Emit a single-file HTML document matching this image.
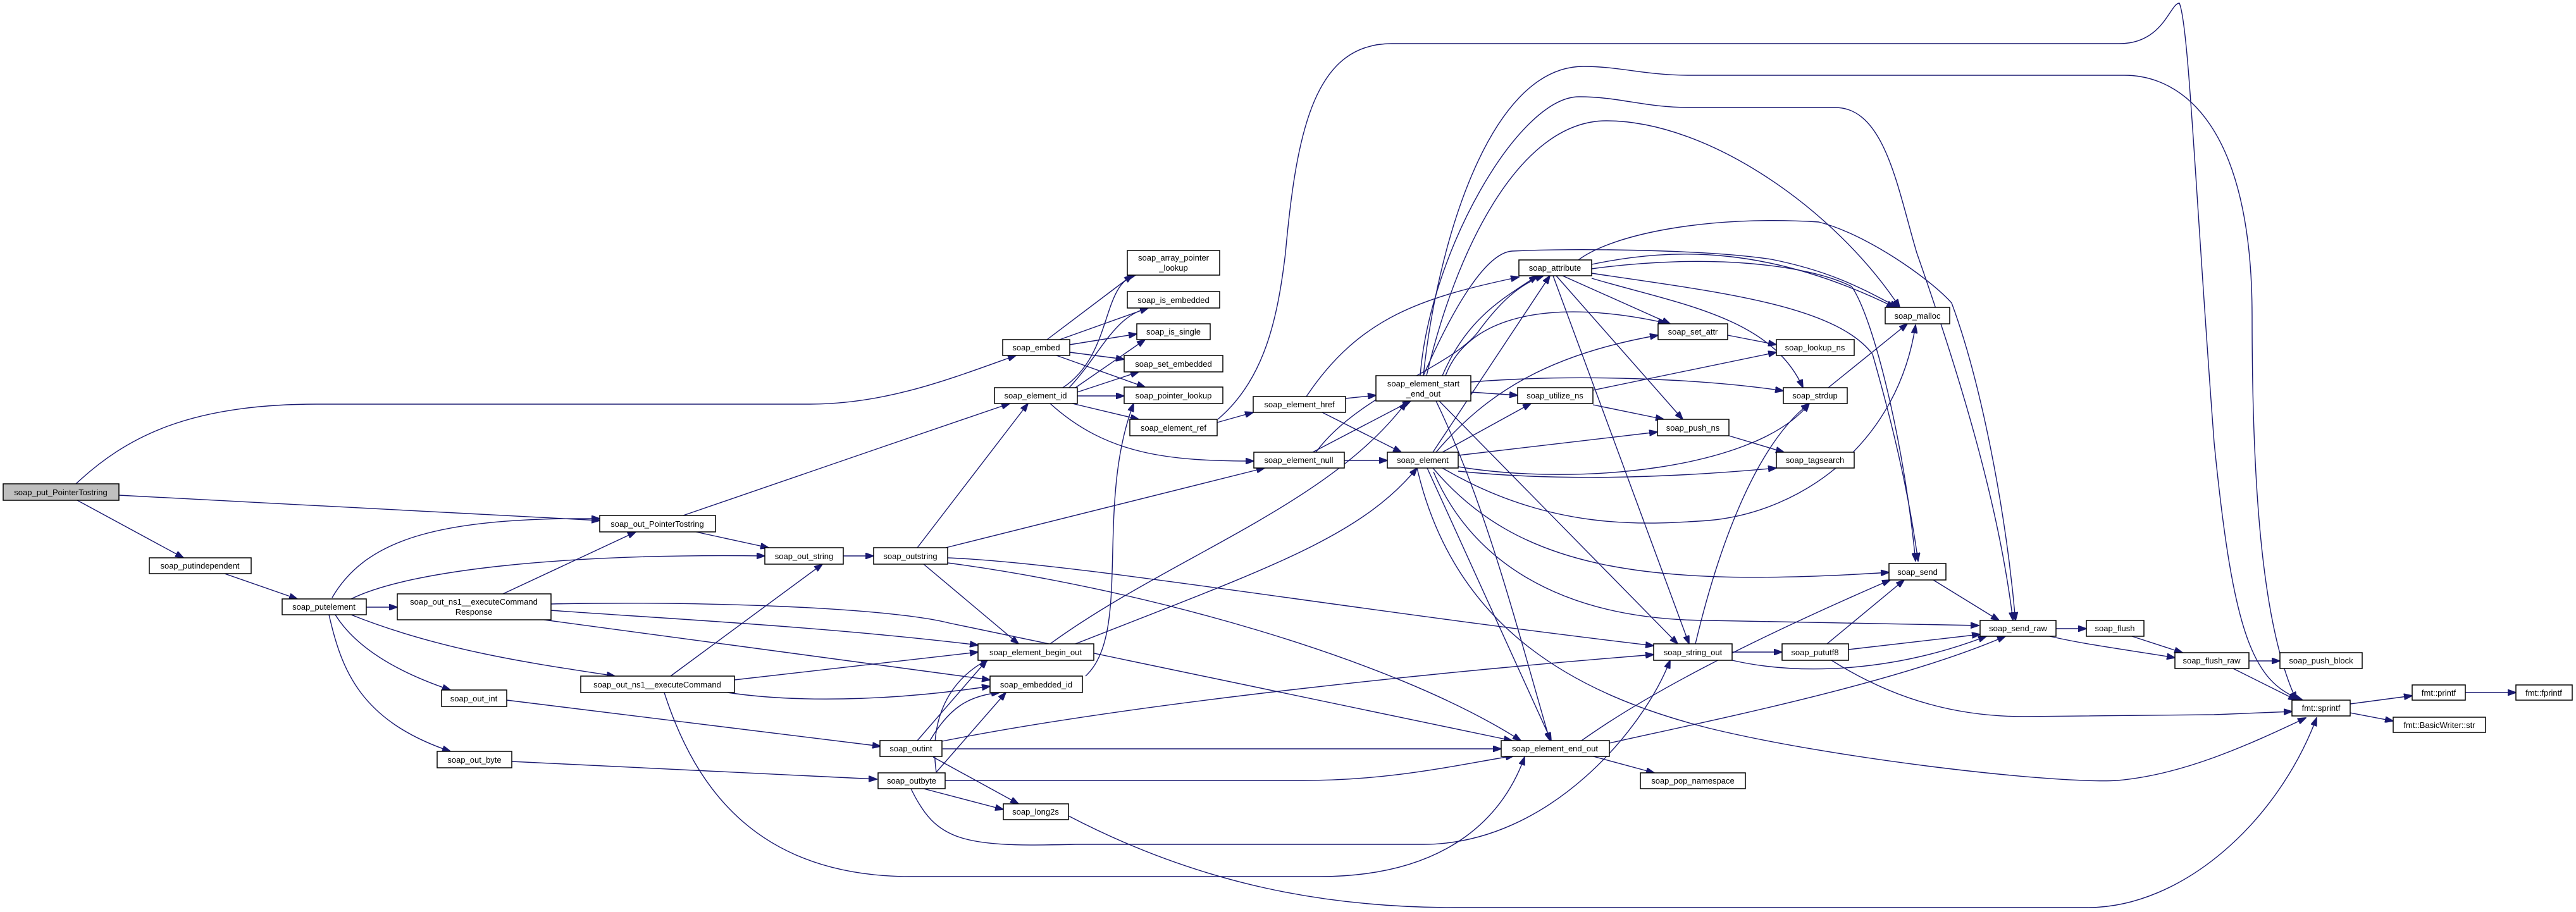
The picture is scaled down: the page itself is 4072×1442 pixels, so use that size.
<!DOCTYPE html>
<html><head><meta charset="utf-8"><style>
html,body{margin:0;padding:0;background:#fff;}
svg{display:block;}
text{font-family:"Liberation Sans",sans-serif;font-size:13px;fill:#000;text-anchor:middle;}
.e{fill:none;stroke:#191970;stroke-width:1.4;marker-end:url(#a);}
.n{fill:#fff;stroke:#000;stroke-width:1.5;}
</style></head><body>
<svg width="4072" height="1442" viewBox="0 0 4072 1442" xmlns="http://www.w3.org/2000/svg">
<defs><marker id="a" markerUnits="userSpaceOnUse" markerWidth="14" markerHeight="10" refX="13" refY="5" orient="auto"><path d="M0,0 L14,5 L0,10 z" fill="#191970" stroke="#191970"/></marker></defs>
<g>
<path class="e" d="M122,791 L290,882"/>
<path class="e" d="M188,783 L948,823"/>
<path class="e" d="M120,765 C200,690 300,639 500,639 L1280,639 C1400,639 1500,600 1606,562"/>
<path class="e" d="M355,907 L470,947"/>
<path class="e" d="M579,960 L628,960"/>
<path class="e" d="M525,945 C580,850 700,818 948,820"/>
<path class="e" d="M555,947 C650,900 900,875 1209,879"/>
<path class="e" d="M555,972 C700,1030 850,1050 972,1069"/>
<path class="e" d="M530,972 C560,1020 620,1060 712,1091"/>
<path class="e" d="M520,972 C540,1060 570,1140 712,1188"/>
<path class="e" d="M795,939 L1005,841"/>
<path class="e" d="M871,955 C1100,950 1400,960 1500,985 L2390,1171"/>
<path class="e" d="M871,965 C1000,975 1300,990 1546,1020"/>
<path class="e" d="M860,980 L1565,1075"/>
<path class="e" d="M1080,815 L1400,705 L1596,638"/>
<path class="e" d="M1100,841 L1215,866"/>
<path class="e" d="M1333,879 L1381,879"/>
<path class="e" d="M1450,866 L1625,638"/>
<path class="e" d="M1495,866 L1999,740"/>
<path class="e" d="M1498,882 C1700,890 2100,960 2614,1021"/>
<path class="e" d="M1460,892 L1610,1018"/>
<path class="e" d="M1498,890 C1800,930 2200,1040 2404,1171"/>
<path class="e" d="M1060,1069 L1300,892"/>
<path class="e" d="M1161,1075 L1546,1031"/>
<path class="e" d="M1150,1095 C1250,1110 1400,1110 1565,1085"/>
<path class="e" d="M1050,1095 C1100,1250 1200,1386 1440,1386 L2085,1386 C2300,1386 2380,1280 2410,1197"/>
<path class="e" d="M801,1107 L1392,1180"/>
<path class="e" d="M809,1204 L1386,1232"/>
<path class="e" d="M1450,1171 L1560,1044"/>
<path class="e" d="M1470,1171 C1500,1120 1530,1100 1580,1095"/>
<path class="e" d="M1489,1172 C1800,1110 2300,1060 2614,1035"/>
<path class="e" d="M1490,1184 L2373,1184"/>
<path class="e" d="M1475,1197 L1610,1271"/>
<path class="e" d="M1480,1221 C1470,1150 1490,1080 1563,1042"/>
<path class="e" d="M1480,1221 L1590,1095"/>
<path class="e" d="M1494,1234 L2060,1234 C2200,1234 2300,1210 2393,1195"/>
<path class="e" d="M1460,1247 L1586,1280"/>
<path class="e" d="M1440,1247 C1480,1330 1520,1340 1700,1335 L2250,1335 C2450,1335 2600,1150 2640,1044"/>
<path class="e" d="M1689,1290 C1900,1400 2100,1435 2300,1435 L3300,1435 C3450,1435 3600,1300 3662,1135"/>
<path class="e" d="M1655,537 L1790,435"/>
<path class="e" d="M1675,537 L1815,487"/>
<path class="e" d="M1691,545 L1797,528"/>
<path class="e" d="M1691,557 L1777,568"/>
<path class="e" d="M1670,562 L1810,612"/>
<path class="e" d="M1680,613 C1760,560 1740,450 1795,435"/>
<path class="e" d="M1690,613 C1740,560 1760,500 1815,487"/>
<path class="e" d="M1700,613 L1810,537"/>
<path class="e" d="M1703,620 L1800,588"/>
<path class="e" d="M1703,626 L1777,626"/>
<path class="e" d="M1695,638 L1800,663"/>
<path class="e" d="M1660,638 C1750,720 1850,729 1982,729"/>
<path class="e" d="M1924,668 L1981,652"/>
<path class="e" d="M2127,630 L2175,625"/>
<path class="e" d="M2090,652 L2215,715"/>
<path class="e" d="M2065,627 C2150,500 2250,470 2401,438"/>
<path class="e" d="M2125,728 L2193,728"/>
<path class="e" d="M2075,715 L2230,634"/>
<path class="e" d="M2080,715 C2150,620 2300,580 2340,520 C2370,480 2400,450 2440,436"/>
<path class="e" d="M1660,1018 C1850,880 2100,800 2223,636"/>
<path class="e" d="M1700,1018 C2000,900 2150,850 2240,740"/>
<path class="e" d="M1716,1069 C1790,1000 1730,800 1792,638"/>
<path class="e" d="M2280,594 C2320,500 2380,470 2430,436"/>
<path class="e" d="M2285,594 C2320,500 2450,470 2634,511"/>
<path class="e" d="M2325,620 L2399,625"/>
<path class="e" d="M2325,604 C2500,590 2700,600 2819,618"/>
<path class="e" d="M2270,634 C2350,800 2400,1000 2450,1171"/>
<path class="e" d="M2275,634 L2652,1018"/>
<path class="e" d="M2255,594 C2300,400 2400,191 2539,191 C2700,191 2900,330 3003,486"/>
<path class="e" d="M2245,594 C2260,400 2400,153 2496,153 C2560,153 2600,170 2670,170 L2901,170 C2980,170 3000,300 3030,400 C3100,600 3160,800 3182,981"/>
<path class="e" d="M2250,594 C2270,400 2350,105 2503,105 C2560,105 2600,119 2670,119 L3358,119 C3450,119 3560,200 3560,500 C3560,800 3580,1000 3630,1107"/>
<path class="e" d="M1925,663 C2000,600 2020,500 2032,400 C2050,200 2080,69 2200,69 L3350,69 C3420,69 3430,5 3445,5 C3460,40 3470,300 3500,700 C3530,1000 3560,1080 3640,1107"/>
<path class="e" d="M2265,715 L2450,436"/>
<path class="e" d="M2270,715 C2350,620 2450,560 2621,530"/>
<path class="e" d="M2280,715 L2420,638"/>
<path class="e" d="M2305,720 L2620,683"/>
<path class="e" d="M2305,738 C2500,770 2780,740 2860,638"/>
<path class="e" d="M2305,745 C2500,765 2700,750 2808,740"/>
<path class="e" d="M2280,740 C2450,840 2600,830 2700,823 C2850,810 3000,700 3028,514"/>
<path class="e" d="M2265,740 C2400,900 2600,930 2986,905"/>
<path class="e" d="M2266,746 C2320,874 2450,980 2700,981 L3128,989"/>
<path class="e" d="M2256,740 L2452,1171"/>
<path class="e" d="M2240,740 C2300,1000 2500,1100 2700,1151 C2900,1200 3250,1240 3347,1234 C3450,1225 3550,1180 3645,1135"/>
<path class="e" d="M2516,418 C2650,390 2800,390 2995,486"/>
<path class="e" d="M2250,594 C2300,480 2350,400 2390,397 C2500,392 2700,395 2800,410 C2900,430 2950,460 3000,486"/>
<path class="e" d="M2495,411 C2550,370 2700,340 2875,351 C2950,370 3050,440 3085,479 C3130,600 3170,800 3186,981"/>
<path class="e" d="M2516,425 C2700,400 2857,418 2927,453 C2962,504 3010,700 3028,887"/>
<path class="e" d="M2516,432 C2700,460 2900,480 2960,560 C3000,700 3020,800 3032,887"/>
<path class="e" d="M2470,436 L2640,512"/>
<path class="e" d="M2460,436 L2660,663"/>
<path class="e" d="M2516,440 C2650,480 2800,500 2850,613"/>
<path class="e" d="M2455,436 L2670,1018"/>
<path class="e" d="M2731,530 L2808,545"/>
<path class="e" d="M2518,617 L2808,557"/>
<path class="e" d="M2518,640 L2630,663"/>
<path class="e" d="M2733,689 L2820,715"/>
<path class="e" d="M2890,613 L3015,512"/>
<path class="e" d="M2680,1018 C2720,850 2780,700 2860,638"/>
<path class="e" d="M2738,1031 L2817,1031"/>
<path class="e" d="M2738,1044 C2850,1070 3000,1060 3140,1006"/>
<path class="e" d="M2500,1171 C2600,1100 2750,1020 2988,917"/>
<path class="e" d="M2544,1175 C2700,1140 3000,1080 3170,1006"/>
<path class="e" d="M2515,1195 L2615,1222"/>
<path class="e" d="M2888,1018 L3010,917"/>
<path class="e" d="M2922,1027 L3130,1003"/>
<path class="e" d="M2895,1044 C3000,1110 3100,1133 3200,1133 L3500,1130 L3623,1125"/>
<path class="e" d="M3056,917 L3160,981"/>
<path class="e" d="M3250,994 L3298,994"/>
<path class="e" d="M3240,1006 C3300,1020 3380,1030 3438,1040"/>
<path class="e" d="M3370,1006 L3450,1032"/>
<path class="e" d="M3555,1045 L3604,1045"/>
<path class="e" d="M3530,1057 L3630,1107"/>
<path class="e" d="M3715,1113 L3813,1100"/>
<path class="e" d="M3715,1127 L3783,1140"/>
<path class="e" d="M3897,1095 L3977,1095"/>
</g>
<g>
<rect x="5" y="765" width="183" height="26" fill="#bfbfbf" stroke="#000" stroke-width="1.5"/><text x="96" y="783">soap_put_PointerTostring</text>
<rect class="n" x="236" y="882" width="161" height="25"/><text x="316" y="899">soap_putindependent</text>
<rect class="n" x="446" y="947" width="133" height="25"/><text x="512" y="964">soap_putelement</text>
<rect class="n" x="628" y="939" width="243" height="41"/><text x="749" y="956">soap_out_ns1__executeCommand</text><text x="749" y="972">Response</text>
<rect class="n" x="948" y="815" width="183" height="26"/><text x="1039" y="833">soap_out_PointerTostring</text>
<rect class="n" x="1209" y="866" width="124" height="26"/><text x="1271" y="884">soap_out_string</text>
<rect class="n" x="918" y="1069" width="243" height="26"/><text x="1039" y="1087">soap_out_ns1__executeCommand</text>
<rect class="n" x="698" y="1091" width="103" height="26"/><text x="749" y="1109">soap_out_int</text>
<rect class="n" x="691" y="1188" width="118" height="26"/><text x="750" y="1206">soap_out_byte</text>
<rect class="n" x="1381" y="866" width="117" height="26"/><text x="1439" y="884">soap_outstring</text>
<rect class="n" x="1391" y="1171" width="98" height="25"/><text x="1440" y="1188">soap_outint</text>
<rect class="n" x="1388" y="1222" width="106" height="25"/><text x="1441" y="1239">soap_outbyte</text>
<rect class="n" x="1586" y="1271" width="103" height="25"/><text x="1637" y="1288">soap_long2s</text>
<rect class="n" x="1546" y="1018" width="183" height="26"/><text x="1637" y="1036">soap_element_begin_out</text>
<rect class="n" x="1565" y="1069" width="146" height="26"/><text x="1638" y="1087">soap_embedded_id</text>
<rect class="n" x="1585" y="537" width="106" height="25"/><text x="1638" y="554">soap_embed</text>
<rect class="n" x="1572" y="613" width="131" height="25"/><text x="1637" y="630">soap_element_id</text>
<rect class="n" x="1782" y="396" width="146" height="39"/><text x="1855" y="412">soap_array_pointer</text><text x="1855" y="428">_lookup</text>
<rect class="n" x="1782" y="461" width="146" height="26"/><text x="1855" y="479">soap_is_embedded</text>
<rect class="n" x="1797" y="512" width="116" height="25"/><text x="1855" y="529">soap_is_single</text>
<rect class="n" x="1777" y="562" width="156" height="26"/><text x="1855" y="580">soap_set_embedded</text>
<rect class="n" x="1777" y="612" width="156" height="26"/><text x="1855" y="630">soap_pointer_lookup</text>
<rect class="n" x="1786" y="663" width="138" height="26"/><text x="1855" y="681">soap_element_ref</text>
<rect class="n" x="1981" y="627" width="146" height="25"/><text x="2054" y="644">soap_element_href</text>
<rect class="n" x="1982" y="715" width="143" height="25"/><text x="2053" y="732">soap_element_null</text>
<rect class="n" x="2175" y="594" width="150" height="40"/><text x="2250" y="611">soap_element_start</text><text x="2250" y="627">_end_out</text>
<rect class="n" x="2193" y="715" width="112" height="25"/><text x="2249" y="732">soap_element</text>
<rect class="n" x="2401" y="411" width="115" height="25"/><text x="2458" y="428">soap_attribute</text>
<rect class="n" x="2399" y="613" width="119" height="25"/><text x="2458" y="630">soap_utilize_ns</text>
<rect class="n" x="2621" y="512" width="110" height="25"/><text x="2676" y="529">soap_set_attr</text>
<rect class="n" x="2620" y="663" width="113" height="26"/><text x="2676" y="681">soap_push_ns</text>
<rect class="n" x="2614" y="1018" width="124" height="26"/><text x="2676" y="1036">soap_string_out</text>
<rect class="n" x="2373" y="1171" width="171" height="25"/><text x="2458" y="1188">soap_element_end_out</text>
<rect class="n" x="2593" y="1222" width="166" height="25"/><text x="2676" y="1239">soap_pop_namespace</text>
<rect class="n" x="2980" y="486" width="102" height="26"/><text x="3031" y="504">soap_malloc</text>
<rect class="n" x="2808" y="537" width="123" height="25"/><text x="2869" y="554">soap_lookup_ns</text>
<rect class="n" x="2819" y="613" width="101" height="25"/><text x="2869" y="630">soap_strdup</text>
<rect class="n" x="2808" y="715" width="123" height="25"/><text x="2869" y="732">soap_tagsearch</text>
<rect class="n" x="2817" y="1018" width="105" height="26"/><text x="2869" y="1036">soap_pututf8</text>
<rect class="n" x="2986" y="891" width="90" height="26"/><text x="3031" y="909">soap_send</text>
<rect class="n" x="3130" y="981" width="120" height="25"/><text x="3190" y="998">soap_send_raw</text>
<rect class="n" x="3298" y="981" width="91" height="25"/><text x="3343" y="998">soap_flush</text>
<rect class="n" x="3438" y="1032" width="117" height="25"/><text x="3496" y="1049">soap_flush_raw</text>
<rect class="n" x="3604" y="1032" width="130" height="25"/><text x="3669" y="1049">soap_push_block</text>
<rect class="n" x="3623" y="1107" width="92" height="25"/><text x="3669" y="1124">fmt::sprintf</text>
<rect class="n" x="3813" y="1083" width="84" height="24"/><text x="3855" y="1100">fmt::printf</text>
<rect class="n" x="3977" y="1083" width="89" height="24"/><text x="4021" y="1100">fmt::fprintf</text>
<rect class="n" x="3783" y="1134" width="146" height="24"/><text x="3856" y="1151">fmt::BasicWriter::str</text>
</g>
</svg>
</body></html>
